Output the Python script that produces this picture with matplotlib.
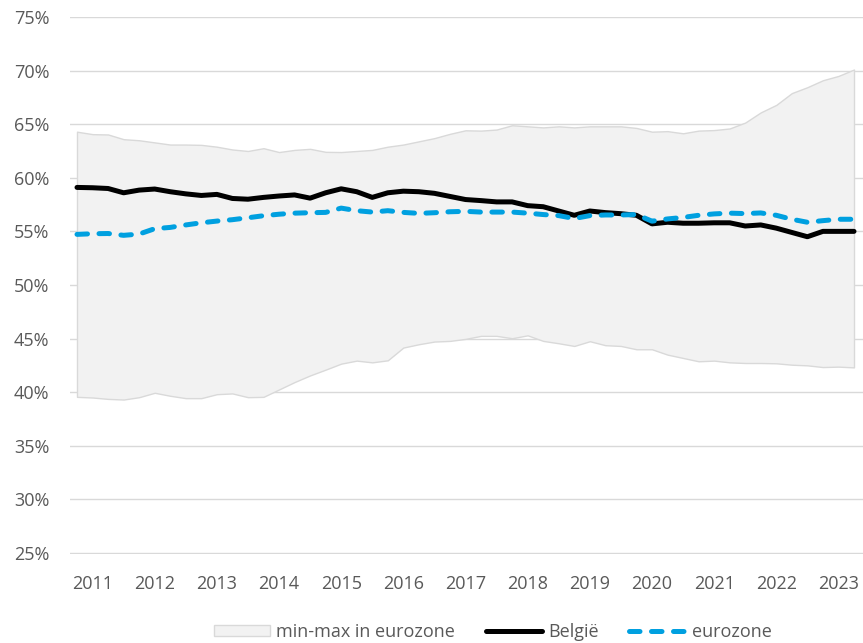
import numpy as np
import matplotlib
matplotlib.use("Agg")
import matplotlib.pyplot as plt
from matplotlib.ticker import FuncFormatter

# quarterly, 2011Q1 .. 2023Q3 (shares in %)
years = list(range(2011, 2024))
ez_max = [64.3, 64.07, 64.04, 63.6, 63.5, 63.3, 63.1, 63.1, 63.07, 62.9,
          62.64, 62.5, 62.76, 62.4, 62.6, 62.7, 62.42, 62.4, 62.5, 62.6,
          62.9, 63.1, 63.4, 63.7, 64.1, 64.43, 64.4, 64.5, 64.9, 64.8,
          64.7, 64.8, 64.7, 64.8, 64.8, 64.8, 64.65, 64.3, 64.35, 64.15,
          64.4, 64.45, 64.6, 65.15, 66.1, 66.8, 67.9, 68.45, 69.1, 69.5, 70.1]
ez_min = [39.56, 39.5, 39.37, 39.31, 39.53, 39.94, 39.66, 39.44, 39.44, 39.81,
          39.88, 39.53, 39.56, 40.25, 40.94, 41.56, 42.1, 42.66, 42.94, 42.78,
          42.97, 44.16, 44.47, 44.72, 44.78, 44.97, 45.25, 45.25, 45.03, 45.3,
          44.78, 44.56, 44.31, 44.75, 44.38, 44.31, 44.0, 44.0, 43.5, 43.19,
          42.88, 42.94, 42.78, 42.72, 42.72, 42.69, 42.56, 42.5, 42.34, 42.38, 42.31]
belgie = [59.1, 59.07, 59.0, 58.6, 58.85, 58.95, 58.7, 58.5, 58.35, 58.45,
          58.07, 58.0, 58.17, 58.3, 58.4, 58.1, 58.6, 58.97, 58.7, 58.17,
          58.6, 58.75, 58.7, 58.55, 58.26, 57.97, 57.87, 57.75, 57.75, 57.4,
          57.3, 56.9, 56.5, 56.9, 56.75, 56.65, 56.5, 55.7, 55.85, 55.76,
          55.76, 55.8, 55.8, 55.5, 55.6, 55.3, 54.9, 54.5, 55.0, 55.0, 55.0]
eurozone = [54.72, 54.78, 54.8, 54.63, 54.75, 55.25, 55.37, 55.6, 55.8, 55.96,
            56.09, 56.27, 56.46, 56.6, 56.7, 56.74, 56.77, 57.17, 56.93, 56.8,
            56.93, 56.77, 56.68, 56.74, 56.83, 56.87, 56.8, 56.8, 56.8, 56.7,
            56.57, 56.47, 56.2, 56.47, 56.53, 56.53, 56.57, 55.95, 56.16, 56.3,
            56.5, 56.63, 56.7, 56.66, 56.72, 56.5, 56.13, 55.85, 56.0, 56.13, 56.13]

plt.rcParams.update({"font.family": ["Open Sans", "DejaVu Sans"], "font.size": 13})
text_col = "#595959"
grid_col = "#d9d9d9"

fig = plt.figure(figsize=(8.63, 6.43), dpi=100)
ax = fig.add_axes([70/863, 89/643, 793/863, 537/643])

x = np.arange(len(belgie))
ax.fill_between(x, ez_min, ez_max, facecolor="#f2f2f2", edgecolor=grid_col,
                linewidth=1.0, label="min-max in eurozone", zorder=1)
ax.plot(x, belgie, color="black", linewidth=3.6, solid_capstyle="round",
        solid_joinstyle="round", label="België", zorder=3)
ax.plot(x, eurozone, color="#00a0e0", linewidth=3.6, linestyle=(0, (2.1, 2.3)),
        dash_capstyle="round", dash_joinstyle="round", label="eurozone", zorder=4)

ax.set_xlim(-7/15.53, 50 + 9/15.53)
ax.set_ylim(24.9, 75)
ax.set_yticks(np.arange(25, 76, 5))
ax.yaxis.set_major_formatter(FuncFormatter(lambda v, _: f"{v:.0f}%"))
ax.set_xticks(np.arange(1, len(belgie), 4))
ax.set_xticklabels([str(y) for y in years])
ax.grid(axis="y", color=grid_col, linewidth=1.0, zorder=0)
ax.set_axisbelow(True)
for s in ax.spines.values():
    s.set_visible(False)
ax.tick_params(axis="both", length=0, colors=text_col, labelsize=13)
ax.tick_params(axis="x", pad=15)
ax.tick_params(axis="y", pad=15)

fig.legend(loc="lower center", bbox_to_anchor=(0.571, -0.022), ncol=3, frameon=False,
           handlelength=3.1, handleheight=0.6, handletextpad=0.35, columnspacing=1.7,
           labelcolor=text_col, fontsize=13)

fig.savefig("out.png", dpi=100)
